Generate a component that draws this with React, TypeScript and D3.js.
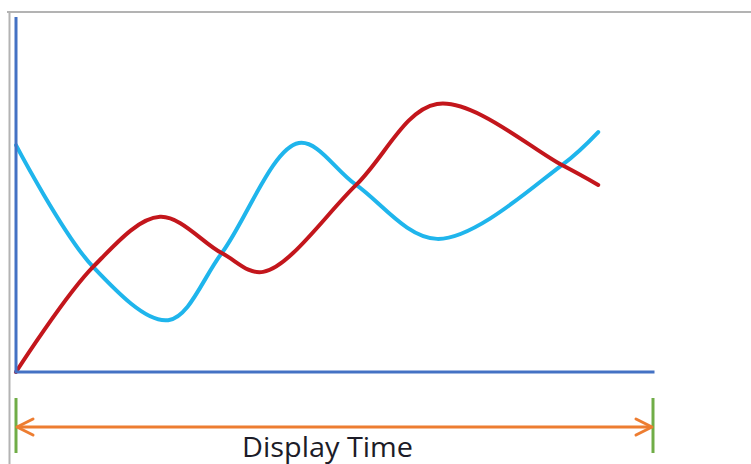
import React from "react";
import * as d3 from "d3";

const redX = [0, 12.1, 22.6, 32.3, 38.8, 53.4, 66.1, 85.7, 91.4];
const redY = [0, 29.6, 43.7, 33.5, 28.2, 52.7, 75.5, 58.3, 52.7];
const blueX = [0, 12.1, 23.9, 32.3, 44.4, 53.4, 66.1, 85.7, 91.4];
const blueY = [63.9, 29.6, 14.6, 33.5, 64.5, 52.7, 37.5, 58.3, 67.6];
const timeLabel = "Display Time";

const W = 751;
const H = 464;

export default function App() {
  const x = d3.scaleLinear().domain([0, 100]).range([16, 653]);
  const y = d3.scaleLinear().domain([0, 100]).range([372, 17]);
  const line = d3
    .line<[number, number]>()
    .x((d) => x(d[0]))
    .y((d) => y(d[1]))
    .curve(d3.curveCatmullRom.alpha(0.5));
  const red = redX.map((v, i) => [v, redY[i]] as [number, number]);
  const blue = blueX.map((v, i) => [v, blueY[i]] as [number, number]);
  const x0 = x(0);
  const x1 = x(100);
  const ay = 427;
  return (
    <svg
      width={W}
      height={H}
      style={{ position: "absolute", left: 0, top: 0, background: "#fff" }}
    >
      <line x1={7} y1={12} x2={751} y2={12} stroke="#b3b3b3" strokeWidth={2} />
      <line x1={9.5} y1={12} x2={9.5} y2={464} stroke="#b3b3b3" strokeWidth={2} />
      <path d={line(blue) || ""} fill="none" stroke="#1fb5ec" strokeWidth={4} strokeLinecap="round" />
      <path d={line(red) || ""} fill="none" stroke="#c3161c" strokeWidth={4} strokeLinecap="round" />
      <line x1={x0} y1={y(100)} x2={x0} y2={y(0)} stroke="#4472c4" strokeWidth={3} />
      <line x1={x0} y1={y(0)} x2={x1} y2={y(0)} stroke="#4472c4" strokeWidth={3} strokeLinecap="square" />
      <line x1={x0} y1={398} x2={x0} y2={453} stroke="#70ad47" strokeWidth={3} />
      <line x1={x1} y1={398} x2={x1} y2={453} stroke="#70ad47" strokeWidth={3} />
      <line x1={x0 + 1} y1={ay} x2={x1 - 1} y2={ay} stroke="#ed7d31" strokeWidth={3} />
      <path
        d={`M${x0 + 17},${ay - 8} L${x0 + 1},${ay} L${x0 + 17},${ay + 8}`}
        fill="none"
        stroke="#ed7d31"
        strokeWidth={3}
        strokeLinecap="round"
        strokeLinejoin="round"
      />
      <path
        d={`M${x1 - 17},${ay - 8} L${x1 - 1},${ay} L${x1 - 17},${ay + 8}`}
        fill="none"
        stroke="#ed7d31"
        strokeWidth={3}
        strokeLinecap="round"
        strokeLinejoin="round"
      />
      <text
        x={242}
        y={457}
        textLength={171}
        lengthAdjust="spacingAndGlyphs"
        fontFamily="'Open Sans', sans-serif"
        fontSize={27}
        fill="#1c1c28"
      >
        {timeLabel}
      </text>
    </svg>
  );
}
